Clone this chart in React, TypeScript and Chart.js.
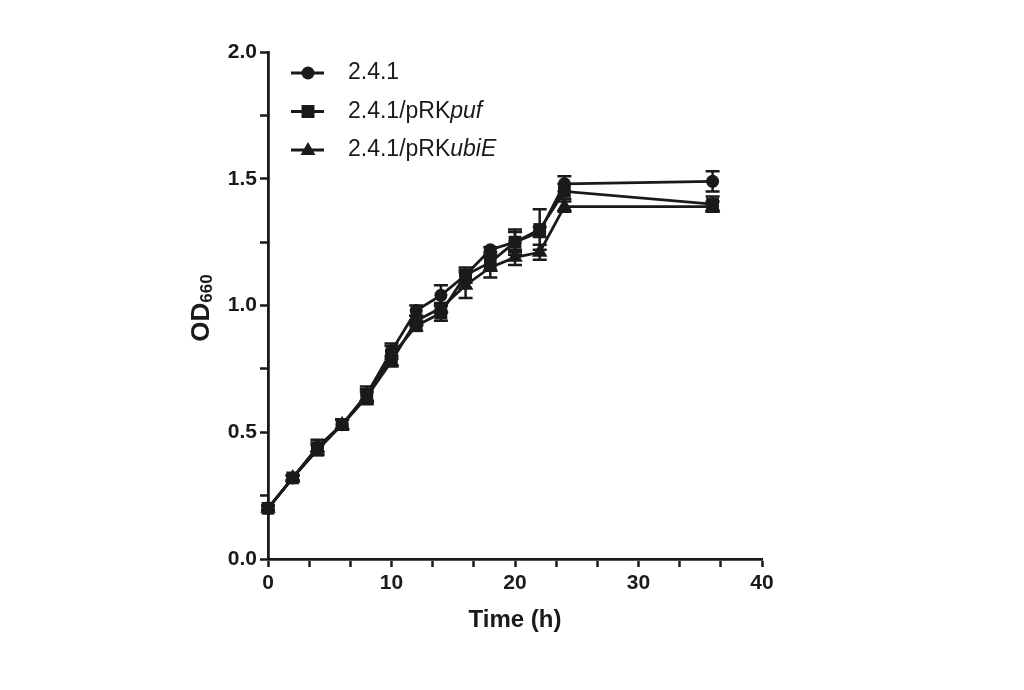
import React, { useEffect, useRef } from "react";
import { Chart, registerables } from "chart.js";
Chart.register(...registerables);

const hours = [0, 2, 4, 6, 8, 10, 12, 14, 16, 18, 20, 22, 24, 36];
const wtValues = [0.2, 0.32, 0.44, 0.53, 0.65, 0.82, 0.98, 1.04, 1.12, 1.22, 1.25, 1.29, 1.48, 1.49];
const wtErrors = [0.01, 0.01, 0.03, 0.02, 0.03, 0.03, 0.02, 0.04, 0.02, 0.01, 0.04, 0.02, 0.03, 0.04];
const pufValues = [0.2, 0.32, 0.43, 0.53, 0.64, 0.8, 0.92, 0.97, 1.12, 1.17, 1.25, 1.3, 1.45, 1.4];
const pufErrors = [0.01, 0.01, 0.02, 0.02, 0.03, 0.04, 0.02, 0.03, 0.03, 0.03, 0.05, 0.08, 0.03, 0.03];
const ubiValues = [0.2, 0.32, 0.44, 0.53, 0.64, 0.78, 0.94, 0.99, 1.08, 1.15, 1.19, 1.21, 1.39, 1.39];
const ubiErrors = [0.01, 0.01, 0.02, 0.02, 0.02, 0.02, 0.02, 0.02, 0.05, 0.04, 0.03, 0.03, 0.02, 0.02];

const seriesNames = ["2.4.1", "2.4.1/pRKpuf", "2.4.1/pRKubiE"];
const legendParts: [string, boolean][][] = [
  [["2.4.1", false]],
  [["2.4.1/pRK", false], ["puf", true]],
  [["2.4.1/pRK", false], ["ubiE", true]],
];
const pointStyles = ["circle", "rect", "triangle"];
const pointRadii = [6.5, 9, 9];

const yTickValues = [0, 0.25, 0.5, 0.75, 1.0, 1.25, 1.5, 1.75, 2.0];
const yTickLabels = ["0.0", "", "0.5", "", "1.0", "", "1.5", "", "2.0"];
const xTickValues = [0, 3.3333, 6.6667, 10, 13.3333, 16.6667, 20, 23.3333, 26.6667, 30, 33.3333, 36.6667, 40];
const xTickLabels = ["0", "", "", "10", "", "", "20", "", "", "30", "", "", "40"];

const INK = "#1a1a1a";
const FONT = "'Liberation Sans', Arial, sans-serif";

const errorBarPlugin = {
  id: "errorBars",
  beforeDatasetsDraw(chart: any) {
    const ctx = chart.ctx;
    const y = chart.scales.y;
    const x = chart.scales.x;
    const errs = [wtErrors, pufErrors, ubiErrors];
    ctx.save();
    ctx.strokeStyle = INK;
    ctx.lineWidth = 2.5;
    chart.data.datasets.forEach((ds: any, i: number) => {
      ds.data.forEach((p: any, j: number) => {
        const e = errs[i][j];
        const px = x.getPixelForValue(p.x);
        const top = y.getPixelForValue(p.y + e);
        const bot = y.getPixelForValue(p.y - e);
        ctx.beginPath();
        ctx.moveTo(px, top);
        ctx.lineTo(px, bot);
        ctx.moveTo(px - 7, top);
        ctx.lineTo(px + 7, top);
        ctx.moveTo(px - 7, bot);
        ctx.lineTo(px + 7, bot);
        ctx.stroke();
      });
    });
    ctx.restore();
  },
};

const decorPlugin = {
  id: "decor",
  afterDraw(chart: any) {
    const ctx = chart.ctx;
    ctx.save();
    ctx.fillStyle = INK;
    ctx.strokeStyle = INK;
    // legend
    for (let i = 0; i < seriesNames.length; i++) {
      const cy = 73 + i * 38.5;
      ctx.lineWidth = 2.8;
      ctx.beginPath();
      ctx.moveTo(291, cy);
      ctx.lineTo(324, cy);
      ctx.stroke();
      ctx.beginPath();
      const style = pointStyles[i];
      if (style === "circle") {
        ctx.arc(308, cy, 6.5, 0, Math.PI * 2);
      } else if (style === "rect") {
        ctx.rect(301.5, cy - 6.5, 13, 13);
      } else {
        ctx.moveTo(308, cy - 8);
        ctx.lineTo(315.5, cy + 5);
        ctx.lineTo(300.5, cy + 5);
        ctx.closePath();
      }
      ctx.fill();
      let tx = 348;
      ctx.textBaseline = "middle";
      ctx.textAlign = "left";
      for (const [txt, it] of legendParts[i]) {
        ctx.font = `${it ? "italic " : ""}23px ${FONT}`;
        ctx.fillText(txt, tx, cy);
        tx += ctx.measureText(txt).width;
      }
    }
    // x title
    ctx.font = `bold 24px ${FONT}`;
    ctx.textAlign = "center";
    ctx.textBaseline = "middle";
    ctx.fillText("Time (h)", 515, 620);
    // y title
    ctx.translate(200, 308);
    ctx.rotate(-Math.PI / 2);
    ctx.font = `bold 26px ${FONT}`;
    const w1 = ctx.measureText("OD").width;
    ctx.font = `bold 17px ${FONT}`;
    const w2 = ctx.measureText("660").width;
    const start = -(w1 + w2) / 2;
    ctx.textAlign = "left";
    ctx.textBaseline = "alphabetic";
    ctx.font = `bold 26px ${FONT}`;
    ctx.fillText("OD", start, 9);
    ctx.font = `bold 17px ${FONT}`;
    ctx.fillText("660", start + w1, 12);
    ctx.restore();
  },
};

export default function App() {
  const ref = useRef<HTMLCanvasElement>(null);
  useEffect(() => {
    if (!ref.current) return;
    const mk = (vals: number[]) => hours.map((h, i) => ({ x: h, y: vals[i] }));
    const allVals = [wtValues, pufValues, ubiValues];
    const chart = new Chart(ref.current, {
      type: "line",
      data: {
        datasets: seriesNames.map((name, i) => ({
          label: name,
          data: mk(allVals[i]),
          borderColor: INK,
          backgroundColor: INK,
          borderWidth: 2.8,
          pointStyle: pointStyles[i] as any,
          pointRadius: pointRadii[i],
          pointBackgroundColor: INK,
          pointBorderColor: INK,
          pointBorderWidth: 0,
          tension: 0,
          clip: false as any,
        })),
      },
      options: {
        responsive: false,
        animation: false,
        events: [],
        layout: { padding: { left: 0, top: 52, right: 262, bottom: 0 } },
        plugins: { legend: { display: false }, tooltip: { enabled: false } },
        scales: {
          x: {
            type: "linear",
            min: 0,
            max: 40,
            afterFit(scale: any) {
              scale.height = 131;
            },
            afterBuildTicks(scale: any) {
              scale.ticks = xTickValues.map((v) => ({ value: v }));
            },
            grid: { drawOnChartArea: false, drawTicks: true, tickLength: 8, tickWidth: 2.5, tickColor: INK },
            border: { display: true, color: INK, width: 2.8 },
            ticks: {
              color: INK,
              padding: 4,
              maxRotation: 0,
              autoSkip: false,
              font: { family: FONT, size: 21, weight: "bold" },
              callback: (_v: any, i: number) => xTickLabels[i],
            },
          },
          y: {
            type: "linear",
            min: 0,
            max: 2,
            afterFit(scale: any) {
              scale.width = 268;
            },
            afterBuildTicks(scale: any) {
              scale.ticks = yTickValues.map((v) => ({ value: v }));
            },
            grid: { drawOnChartArea: false, drawTicks: true, tickLength: 8, tickWidth: 2.5, tickColor: INK },
            border: { display: true, color: INK, width: 2.8 },
            ticks: {
              color: INK,
              padding: 3,
              autoSkip: false,
              font: { family: FONT, size: 21, weight: "bold" },
              callback: (_v: any, i: number) => yTickLabels[i],
            },
          },
        },
      },
      plugins: [errorBarPlugin, decorPlugin],
    } as any);
    return () => chart.destroy();
  }, []);
  return (
    <div style={{ position: "absolute", left: 0, top: 0, width: 1024, height: 690, background: "#fff" }}>
      <canvas ref={ref} width={1024} height={690} />
    </div>
  );
}
